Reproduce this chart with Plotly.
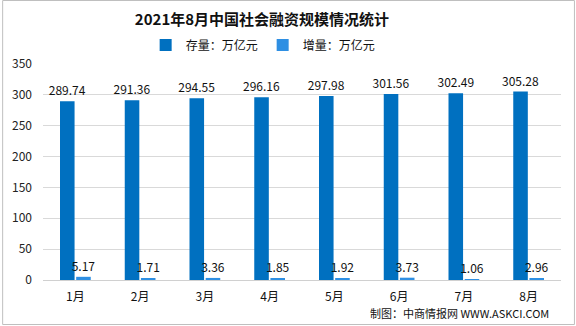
import plotly.graph_objects as go

months = ["1月", "2月", "3月", "4月", "5月", "6月", "7月", "8月"]
stock = [289.74, 291.36, 294.55, 296.16, 297.98, 301.56, 302.49, 305.28]
increment = [5.17, 1.71, 3.36, 1.85, 1.92, 3.73, 1.06, 2.96]
y_ticks = [0, 50, 100, 150, 200, 250, 300, 350]

FONT = "Noto Sans CJK SC"
W, H = 576, 326
ML, MR, MT, MB = 41, 15, 64, 46
PW, PH = W - ML - MR, H - MT - MB
CX = 262  # horizontal centre of title and legend, in pixels

fig = go.Figure()
fig.add_trace(go.Bar(
    name="存量：万亿元", x=months, y=stock,
    marker=dict(color="#0070C0", line=dict(width=0)),
    text=[f"{v:.2f}" for v in stock], textposition="outside",
    constraintext="none",
    textfont=dict(family=FONT, size=12, color="#111111"),
    cliponaxis=False,
))
fig.add_trace(go.Bar(
    name="增量：万亿元", x=months, y=increment,
    marker=dict(color="#2E8FE3", line=dict(width=0)),
    text=[f"{v:.2f}" for v in increment], textposition="outside",
    constraintext="none",
    textfont=dict(family=FONT, size=12, color="#111111"),
    cliponaxis=False,
))

fig.update_layout(
    width=W, height=H,
    margin=dict(l=ML, r=MR, t=MT, b=MB),
    paper_bgcolor="white", plot_bgcolor="white",
    barmode="group", bargap=0.5, bargroupgap=0.1,
    title=dict(text="<b>2021年8月中国社会融资规模情况统计</b>",
               x=CX / W, xanchor="center", y=1 - 20 / H, yanchor="middle",
               font=dict(family=FONT, size=15, color="#111111")),
    legend=dict(orientation="h", x=(CX - ML) / PW, xanchor="center",
                y=1 + 19 / PH, yanchor="middle",
                font=dict(family=FONT, size=12, color="#111111"),
                itemwidth=30, traceorder="normal", bgcolor="rgba(0,0,0,0)"),
    showlegend=True,
    font=dict(family=FONT, size=12, color="#222222"),
)
fig.update_xaxes(showgrid=False, showline=True, linecolor="#D0D0D0", linewidth=1,
                 ticks="", tickfont=dict(family=FONT, size=12, color="#111111"),
                 ticklabelstandoff=6)
fig.update_yaxes(range=[0, 350], tickvals=y_ticks, showgrid=True,
                 gridcolor="#D9D9D9", gridwidth=1, zeroline=False, showline=False,
                 ticks="", tickfont=dict(family=FONT, size=12, color="#222222"),
                 ticklabelstandoff=10)

# outer frame around the whole chart
fig.add_shape(type="rect", xref="paper", yref="paper",
              x0=-(ML - 0.5) / PW, x1=1 + (MR - 1.5) / PW,
              y0=-(MB - 1.5) / PH, y1=1 + (MT - 0.5) / PH,
              line=dict(color="#BFBFBF", width=1), layer="below")

fig.add_annotation(text="制图：中商情报网 WWW.ASKCI.COM", xref="paper", yref="paper",
                   x=1 - 10 / PW, xanchor="right", y=-(313 - MT - PH) / PH,
                   yanchor="middle", showarrow=False,
                   font=dict(family=FONT, size=11, color="#111111"))

fig.write_html("out.html")
